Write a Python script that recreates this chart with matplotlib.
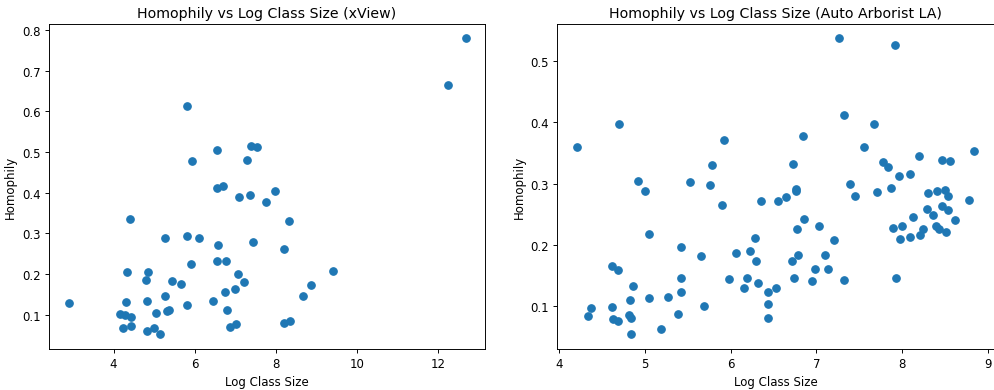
import matplotlib
matplotlib.use("Agg")
import matplotlib.pyplot as plt

# xView: log class size vs homophily
xview_log_size = [
    12.68, 12.26, 5.82, 6.56, 5.93, 7.40, 7.54, 7.29, 6.55, 6.69,
    7.10, 7.37, 7.99, 7.77, 4.41, 8.32, 5.26, 5.80, 6.10, 7.45,
    6.58, 8.21, 6.54, 6.76, 5.91, 4.34, 4.85, 7.08, 9.40, 4.80,
    5.43, 5.67, 7.21, 8.86, 2.89, 4.30, 4.82, 5.26, 6.46, 6.74,
    6.99, 8.68, 5.82, 6.80, 4.15, 4.27, 4.42, 5.04, 5.32, 5.36,
    4.24, 4.44, 4.82, 5.00, 5.15, 6.86, 7.02, 8.20, 8.36,
]
xview_homophily = [
    0.779, 0.664, 0.612, 0.504, 0.477, 0.515, 0.513, 0.481, 0.411, 0.416,
    0.390, 0.393, 0.405, 0.376, 0.336, 0.330, 0.288, 0.293, 0.289, 0.279,
    0.272, 0.261, 0.231, 0.233, 0.225, 0.204, 0.205, 0.201, 0.208, 0.184,
    0.182, 0.175, 0.180, 0.173, 0.129, 0.132, 0.134, 0.147, 0.134, 0.156,
    0.162, 0.145, 0.124, 0.112, 0.102, 0.100, 0.094, 0.104, 0.108, 0.111,
    0.067, 0.073, 0.060, 0.067, 0.052, 0.069, 0.076, 0.080, 0.085,
]

# Auto Arborist LA: log class size vs homophily
arborist_log_size = [
    7.26, 7.92, 7.32, 7.67, 4.70, 4.21, 5.92, 6.84, 7.55, 8.20,
    8.84, 8.46, 8.56, 7.78, 7.83, 6.73, 5.78, 8.09, 7.96, 4.92,
    5.00, 5.52, 5.76, 7.39, 7.45, 6.76, 6.76, 7.71, 7.87, 8.30,
    8.41, 8.50, 8.53, 8.78, 6.35, 6.55, 6.65, 5.90,
    8.47, 8.29, 8.53, 8.36, 8.62, 8.13, 6.86, 7.03, 6.77, 7.89,
    8.00, 8.40, 8.43, 8.24, 8.51, 8.21, 8.09, 7.97, 7.21, 5.05,
    6.28, 5.42, 6.06, 6.22, 7.10, 6.79, 5.65, 6.30, 6.72, 4.61,
    4.68, 6.98, 7.14, 5.98, 6.19, 5.42, 6.74, 7.93, 7.32, 6.95,
    6.32, 4.86, 6.16, 6.53, 5.42, 6.43, 4.83, 5.05, 5.27, 6.43,
    4.61, 4.37, 5.69, 4.33, 4.63, 4.68, 4.81, 4.84, 5.38, 6.43,
    4.84, 5.19,
]
arborist_homophily = [
    0.537, 0.526, 0.412, 0.398, 0.398, 0.359, 0.371, 0.378, 0.360, 0.345,
    0.353, 0.339, 0.336, 0.335, 0.327, 0.332, 0.330, 0.316, 0.312, 0.304,
    0.288, 0.302, 0.297, 0.299, 0.279, 0.287, 0.291, 0.286, 0.292, 0.285,
    0.287, 0.289, 0.279, 0.273, 0.271, 0.272, 0.278, 0.265,
    0.263, 0.258, 0.256, 0.249, 0.240, 0.246, 0.242, 0.230, 0.226, 0.227,
    0.230, 0.230, 0.225, 0.226, 0.221, 0.216, 0.213, 0.210, 0.208, 0.217,
    0.211, 0.197, 0.187, 0.189, 0.184, 0.184, 0.181, 0.173, 0.174, 0.166,
    0.158, 0.160, 0.160, 0.144, 0.146, 0.145, 0.145, 0.145, 0.142, 0.141,
    0.138, 0.133, 0.130, 0.130, 0.123, 0.123, 0.110, 0.113, 0.114, 0.103,
    0.098, 0.096, 0.100, 0.083, 0.078, 0.075, 0.086, 0.080, 0.087, 0.080,
    0.054, 0.062,
]

# the reference looks like a 100-dpi figure shrunk to ~85%
DPI = 85
fig, axes = plt.subplots(1, 2, figsize=(995 / DPI, 391 / DPI), dpi=DPI)

panels = [
    (xview_log_size, xview_homophily, 'Homophily vs Log Class Size (xView)'),
    (arborist_log_size, arborist_homophily, 'Homophily vs Log Class Size (Auto Arborist LA)'),
]
for ax, (xs, ys, title) in zip(axes, panels):
    ax.scatter(xs, ys, color='#1f77b4', s=40)
    ax.set_title(title)
    ax.set_xlabel('Log Class Size')
    ax.set_ylabel('Homophily')

fig.subplots_adjust(left=0.049, right=0.999, bottom=0.105, top=0.937, wspace=0.165)
fig.savefig('out.png', dpi=DPI)
